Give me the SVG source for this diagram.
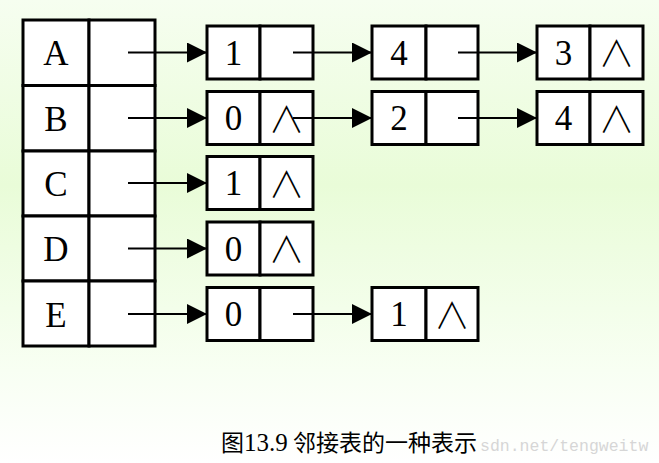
<svg xmlns="http://www.w3.org/2000/svg" width="659" height="463" viewBox="0 0 659 463">
<defs>
<linearGradient id="bg" x1="0" y1="0" x2="0" y2="1">
<stop offset="0" stop-color="#f6fef0"/>
<stop offset="0.4" stop-color="#e9fcd8"/>
<stop offset="0.8" stop-color="#f8fff3"/>
<stop offset="1" stop-color="#ffffff"/>
</linearGradient>
<marker id="ah" markerUnits="userSpaceOnUse" markerWidth="20" markerHeight="20" viewBox="0 0 19 19" refX="19" refY="9.5" orient="auto">
<path d="M0,0 L19,9.5 L0,19 Z" fill="#000"/>
</marker>
</defs>
<style>
.cell{fill:#fff;stroke:#000;stroke-width:3}
.lbl{font-family:"Liberation Serif","Times New Roman",serif;font-size:35px;text-anchor:middle;fill:#000}
.nil{font-family:"Noto Sans CJK SC",sans-serif;font-weight:300;font-size:36px;text-anchor:middle;fill:#000}
.edge{stroke:#000;stroke-width:2;fill:none;marker-end:url(#ah)}
.cap{font-family:"Noto Sans CJK SC",sans-serif;font-size:23px;fill:#000}
.capn{font-family:"Liberation Serif",serif;font-size:25px}
.wm{font-family:"Liberation Mono",monospace;font-size:16.5px;fill:#d6d6d6}
</style>
<rect x="0" y="0" width="659" height="463" fill="url(#bg)"/>

<g id="head-A"><rect class="cell" x="23" y="20" width="66" height="65.5"/><rect class="cell" x="89" y="20" width="66" height="65.5"/><text class="lbl" x="56" y="65">A</text></g>
<g id="head-B"><rect class="cell" x="23" y="85.5" width="66" height="65.5"/><rect class="cell" x="89" y="85.5" width="66" height="65.5"/><text class="lbl" x="56" y="130.5">B</text></g>
<g id="head-C"><rect class="cell" x="23" y="151" width="66" height="65"/><rect class="cell" x="89" y="151" width="66" height="65"/><text class="lbl" x="56" y="195.5">C</text></g>
<g id="head-D"><rect class="cell" x="23" y="216" width="66" height="65"/><rect class="cell" x="89" y="216" width="66" height="65"/><text class="lbl" x="56" y="261">D</text></g>
<g id="head-E"><rect class="cell" x="23" y="281" width="66" height="65"/><rect class="cell" x="89" y="281" width="66" height="65"/><text class="lbl" x="56" y="326.5">E</text></g>

<g id="A1"><rect class="cell" x="207" y="26" width="53" height="53"/><rect class="cell" x="260" y="26" width="53" height="53"/><text class="lbl" x="233.5" y="64.5">1</text></g>
<g id="A2"><rect class="cell" x="372" y="26" width="54" height="53"/><rect class="cell" x="426" y="26" width="52" height="53"/><text class="lbl" x="399" y="64.5">4</text></g>
<g id="A3"><rect class="cell" x="537" y="26" width="53" height="53"/><rect class="cell" x="590" y="26" width="53" height="53"/><text class="lbl" x="563.5" y="64.5">3</text><text class="nil" x="616.5" y="67">∧</text></g>

<g id="B1"><rect class="cell" x="207" y="91.5" width="53" height="53"/><rect class="cell" x="260" y="91.5" width="53" height="53"/><text class="lbl" x="233.5" y="130">0</text><text class="nil" x="286.5" y="132.5">∧</text></g>
<g id="B2"><rect class="cell" x="372" y="91.5" width="54" height="53"/><rect class="cell" x="426" y="91.5" width="52" height="53"/><text class="lbl" x="399" y="130">2</text></g>
<g id="B3"><rect class="cell" x="537" y="91.5" width="53" height="53"/><rect class="cell" x="590" y="91.5" width="53" height="53"/><text class="lbl" x="563.5" y="130">4</text><text class="nil" x="616.5" y="132.5">∧</text></g>

<g id="C1"><rect class="cell" x="207" y="156.5" width="53" height="53"/><rect class="cell" x="260" y="156.5" width="53" height="53"/><text class="lbl" x="233.5" y="195">1</text><text class="nil" x="286.5" y="197.5">∧</text></g>

<g id="D1"><rect class="cell" x="207" y="222" width="53" height="53"/><rect class="cell" x="260" y="222" width="53" height="53"/><text class="lbl" x="233.5" y="260.5">0</text><text class="nil" x="286.5" y="263">∧</text></g>

<g id="E1"><rect class="cell" x="207" y="287.5" width="53" height="53"/><rect class="cell" x="260" y="287.5" width="53" height="53"/><text class="lbl" x="233.5" y="326">0</text></g>
<g id="E2"><rect class="cell" x="372" y="287.5" width="54" height="53"/><rect class="cell" x="426" y="287.5" width="52" height="53"/><text class="lbl" x="399" y="326">1</text><text class="nil" x="452" y="328.5">∧</text></g>

<g id="connectors">
<line class="edge" x1="128" y1="52.5" x2="207" y2="52.5"/>
<line class="edge" x1="293" y1="52.5" x2="372" y2="52.5"/>
<line class="edge" x1="458" y1="52.5" x2="537" y2="52.5"/>
<line class="edge" x1="128" y1="118" x2="207" y2="118"/>
<line class="edge" x1="293" y1="118" x2="372" y2="118"/>
<line class="edge" x1="458" y1="118" x2="537" y2="118"/>
<line class="edge" x1="128" y1="183" x2="207" y2="183"/>
<line class="edge" x1="128" y1="248.5" x2="207" y2="248.5"/>
<line class="edge" x1="128" y1="314" x2="207" y2="314"/>
<line class="edge" x1="293" y1="314" x2="372" y2="314"/>
</g>

<text class="wm" x="480" y="451">sdn.net/tengweitw</text>
<text class="cap" x="221" y="451">图<tspan class="capn">13.9</tspan> 邻接表的一种表示</text>
</svg>
